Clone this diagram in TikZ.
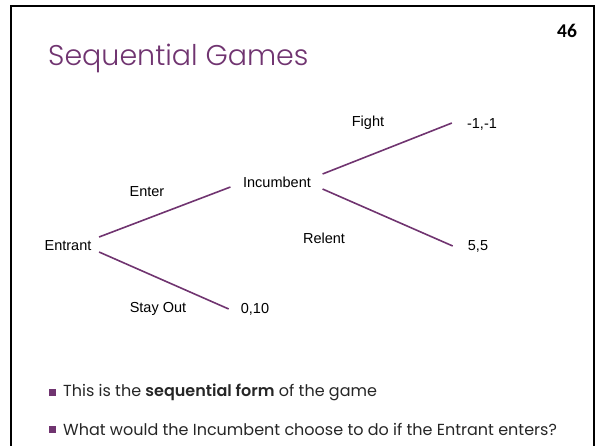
\documentclass[tikz,border=0pt]{standalone}
\usepackage{fontspec}
\setmainfont{Liberation Sans}
\newfontfamily\gothic{Poppins}[BoldFont={Poppins SemiBold}]
\newfontfamily\gothiclight{Poppins Light}
\newfontfamily\calibri{Carlito}
\definecolor{plum}{RGB}{112,52,112}
\definecolor{ink}{RGB}{38,38,38}

\tikzset{
  move/.style={font=\fontsize{14.5}{16}\selectfont, inner sep=0pt,
               text height=10.4pt, text depth=0pt},
  branch/.style={plum, line width=1.6pt},
  square/.style={fill=plum, minimum size=7pt, inner sep=0pt},
  point/.style={font=\gothic\fontsize{16}{19}\selectfont, text=ink,
                inner sep=0pt, anchor=west},
}

\begin{document}
\begin{tikzpicture}[x=1pt,y=-1pt]
  \useasboundingbox (0,0) rectangle (600,445);
  % slide frame, open at the bottom
  \draw[line width=2pt] (11,460) -- (11,6) -- (594,6) -- (594,460);

  \node[anchor=west, inner sep=0pt, text=plum, font=\gothiclight\fontsize{28.5}{32}\selectfont]
    (title) at (48,58) {Sequential Games};
  \node[font=\calibri\bfseries\fontsize{19.5}{22}\selectfont, inner sep=0pt] (page) at (567,31) {46};

  % the game tree
  \node[move] (entrant) at (68,245) {Entrant};
  \node[move] (incumbent) at (277,182) {Incumbent};
  \node[move] (out) at (255,308) {0,10};
  \node[move] (fight) at (482,123.5) {-1,-1};
  \node[move] (relent) at (478,245) {5,5};

  \node[move] (enterlbl) at (147,191) {Enter};
  \node[move] (outlbl) at (158,307.5) {Stay Out};
  \node[move] (fightlbl) at (368,121) {Fight};
  \node[move] (relentlbl) at (324,238.5) {Relent};

  \draw[branch] ([xshift=7.5pt,yshift=8pt]entrant.east) -- ([xshift=-12.5pt,yshift=-5pt]incumbent.west);
  \draw[branch] ([xshift=7.5pt,yshift=-7pt]entrant.east) -- ([xshift=-12pt,yshift=-1pt]out.west);
  \draw[branch] ([xshift=11.5pt,yshift=8pt]incumbent.east) -- ([xshift=-15pt,yshift=.5pt]fight.west);
  \draw[branch] ([xshift=11.5pt,yshift=-7pt]incumbent.east) -- ([xshift=-15pt,yshift=-1pt]relent.west);

  % bullet points
  \node[square] (b1) at (52.5,392.5) {};
  \node[square] (b2) at (52.5,429.5) {};
  \node[point] (p1) at (63,392.5) {This is the \textbf{sequential form} of the game};
  \node[point] (p2) at (63,429.5) {What would the Incumbent choose to do if the Entrant enters?};
\end{tikzpicture}
\end{document}
